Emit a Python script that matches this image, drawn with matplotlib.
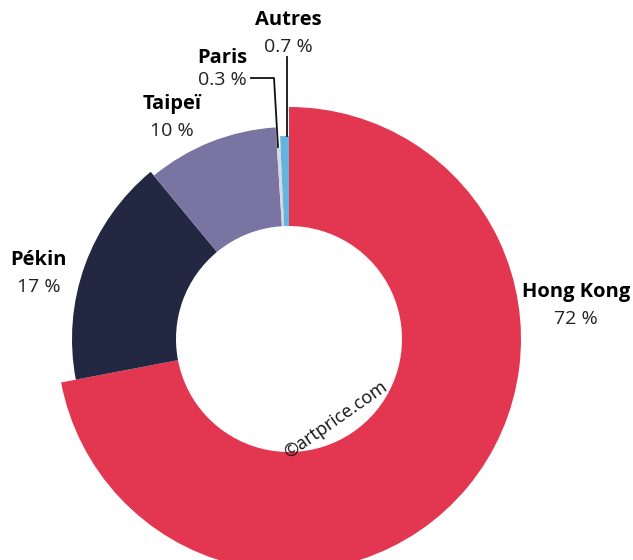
import numpy as np
from matplotlib import pyplot as plt
from matplotlib.lines import Line2D

# data
cities = ["Hong Kong", "Pékin", "Taipeï", "Paris", "Autres"]
shares = [72, 17, 10, 0.3, 0.7]
share_labels = ["72 %", "17 %", "10 %", "0.3 %", "0.7 %"]

# style
colors = ["#E33650", "#232842", "#7A74A3", "#D8D8DE", "#62B5E0"]
outer_r = [232, 217, 212, 192, 203]
inner_r = 113
W, H = 633, 560
cx, cy = 289, 339
rmax = 240

plt.rcParams['font.family'] = ['Open Sans', 'DejaVu Sans']

fig = plt.figure(figsize=(W / 100, H / 100), dpi=100)
ax = fig.add_axes([(cx - rmax) / W, (H - cy - rmax) / H,
                   2 * rmax / W, 2 * rmax / H], projection="polar")
ax.set_theta_zero_location("N")
ax.set_theta_direction(-1)

frac = np.array(shares) / np.sum(shares)
widths = frac * 2 * np.pi
starts = np.concatenate([[0], np.cumsum(widths)[:-1]])
ax.bar(starts, np.array(outer_r) - inner_r, width=widths, bottom=inner_r,
       align="edge", color=colors, edgecolor="none", linewidth=0)
ax.set_ylim(0, rmax)
ax.set_axis_off()


def fx(x):
    return x / W


def fy(y):
    return 1 - y / H


# label positions in pixels (x, y of name line)
label_pos = [(576, 292), (39, 260), (172, 104), (222, 58), (288, 20)]
for name, lab, (x, y) in zip(cities, share_labels, label_pos):
    fig.text(fx(x), fy(y), name, ha="center", va="center",
             fontsize=14.5, fontweight="bold", color="#000000")
    fig.text(fx(x), fy(y + 27 if name != "Paris" else y + 22), lab,
             ha="center", va="center", fontsize=14, color="#222222")

# leader lines
fig.add_artist(Line2D([fx(287), fx(287)], [fy(57), fy(136)],
                      color="#111111", lw=1.3))
fig.add_artist(Line2D([fx(251), fx(274), fx(278)], [fy(78), fy(78), fy(147)],
                      color="#111111", lw=1.3))

fig.text(fx(336), fy(420), "©artprice.com", rotation=35, ha="center",
         va="center", fontsize=13, color="#111111")

fig.savefig("out.png", dpi=100)
